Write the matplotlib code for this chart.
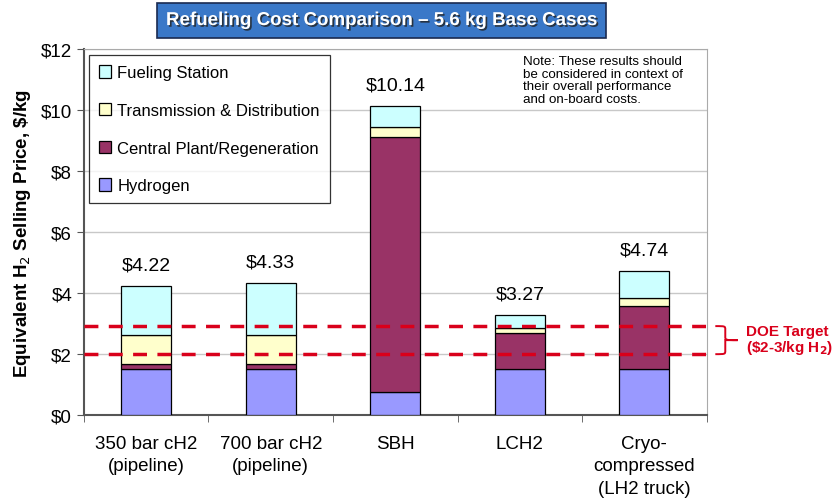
import numpy as np
import matplotlib
matplotlib.use("Agg")
import matplotlib.pyplot as plt
import matplotlib.patheffects as pe
from matplotlib.path import Path
from matplotlib.patches import PathPatch

plt.rcParams['font.family'] = ['Liberation Sans', 'DejaVu Sans']

categories = ["350 bar cH2\n(pipeline)", "700 bar cH2\n(pipeline)", "SBH", "LCH2",
              "Cryo-\ncompressed\n(LH2 truck)"]
hydrogen = [1.50, 1.50, 0.75, 1.50, 1.50]
central_plant = [0.19, 0.19, 8.37, 1.18, 2.08]
trans_dist = [0.94, 0.94, 0.33, 0.18, 0.25]
fueling = [1.59, 1.70, 0.69, 0.41, 0.91]
totals = ["$4.22", "$4.33", "$10.14", "$3.27", "$4.74"]
doe_low, doe_high = 2.0, 2.92

RED = "#D9001B"

fig = plt.figure(figsize=(8.38, 5.02), dpi=100)
ax = fig.add_axes([0.1002, 0.171, 0.743, 0.729])

x = np.arange(len(categories))
w = 0.4
series = [
    (hydrogen, "#9999FF", "Hydrogen"),
    (central_plant, "#993366", "Central Plant/Regeneration"),
    (trans_dist, "#FFFFCC", "Transmission & Distribution"),
    (fueling, "#CCFFFF", "Fueling Station"),
]
bottom = np.zeros(len(x))
handles = []
for vals, col, lab in series:
    b = ax.bar(x, vals, w, bottom=bottom, color=col, edgecolor="black",
               linewidth=0.9, label=lab, zorder=3)
    handles.append(b)
    bottom += np.array(vals)

for xi, top, txt in zip(x, bottom, totals):
    ax.annotate(txt, (xi, top), xytext=(0, 9), textcoords="offset points",
                ha="center", va="bottom", fontsize=14)

ax.axhline(doe_low, color=RED, lw=2.5, ls=(0, (4, 3)), zorder=4)
ax.axhline(doe_high, color=RED, lw=2.5, ls=(0, (4, 3)), zorder=4)

ax.set_xlim(-0.5, 4.5)
ax.set_ylim(0, 12)
ax.set_yticks(np.arange(0, 13, 2))
ax.set_yticklabels(["$%d" % v for v in range(0, 13, 2)], fontsize=13.5)
ax.set_xticks(x)
ax.set_xticklabels(categories, fontsize=13.5, linespacing=1.45)
ax.tick_params(axis="x", length=0, pad=14)
ax.set_xticks(np.arange(-0.5, 5, 1), minor=True)
ax.tick_params(axis="x", which="minor", length=5, direction="out", color="#555555")
ax.tick_params(axis="y", length=5, direction="out", color="#555555")
ax.yaxis.grid(True, color="#C8C8C8", lw=1, zorder=0)
ax.set_axisbelow(True)
for s in ["top", "right"]:
    ax.spines[s].set_color("#AAAAAA")
for s in ["left", "bottom"]:
    ax.spines[s].set_color("#555555")
    ax.spines[s].set_linewidth(1.5)

ax.set_ylabel("Equivalent H$_2$ Selling Price, \\$/kg", fontsize=13.5, fontweight="bold",
              labelpad=6)

leg = ax.legend(handles[::-1], [h.get_label() for h in handles[::-1]],
                loc="upper left", bbox_to_anchor=(0.0, 0.997), fontsize=12,
                frameon=True, fancybox=False, edgecolor="black", handlelength=0.75,
                handleheight=0.75, handletextpad=0.35, labelspacing=1.36,
                borderpad=0.6, borderaxespad=0.3)
leg.get_frame().set_linewidth(0.9)

ax.text(0.705, 0.985, "Note: These results should\nbe considered in context of\n"
        "their overall performance\nand on-board costs.", transform=ax.transAxes,
        ha="left", va="top", fontsize=9.6, linespacing=1.1)

# DOE target curly brace, drawn between the two target lines
bx0, bx1, bx2 = 4.57, 4.65, 4.75
ymid = (doe_low + doe_high) / 2
r = 0.12
verts = [(bx0, doe_high), (bx1, doe_high), (bx1, doe_high), (bx1, doe_high - r),
         (bx1, ymid + r), (bx1, ymid), (bx1, ymid), (bx2, ymid),
         (bx1, ymid), (bx1, ymid), (bx1, ymid - r),
         (bx1, doe_low + r), (bx1, doe_low), (bx1, doe_low), (bx0, doe_low)]
codes = [Path.MOVETO, Path.CURVE4, Path.CURVE4, Path.CURVE4,
         Path.LINETO, Path.CURVE4, Path.CURVE4, Path.LINETO,
         Path.LINETO, Path.CURVE4, Path.CURVE4,
         Path.LINETO, Path.CURVE4, Path.CURVE4, Path.CURVE4]
ax.add_patch(PathPatch(Path(verts, codes), facecolor="none", edgecolor=RED, lw=1.4,
                       clip_on=False, zorder=5))
ax.text(4.82, ymid, "DOE Target\n(\\$2-3/kg H$_\\mathbf{2}$)",
        color=RED, fontsize=11, fontweight="bold", ha="left", va="center",
        clip_on=False, linespacing=1.05)

fig.text(0.455, 0.957, "Refueling Cost Comparison \u2013 5.6 kg Base Cases",
         ha="center", va="center", fontsize=13.5, fontweight="bold", color="white",
         path_effects=[pe.withSimplePatchShadow(offset=(1.2, -1.2), shadow_rgbFace="#222222", alpha=0.8)],
         bbox=dict(boxstyle="square,pad=0.5", facecolor="#3A78C8", edgecolor="#1A2A50", lw=1.2))

fig.savefig("out.png", dpi=100)
